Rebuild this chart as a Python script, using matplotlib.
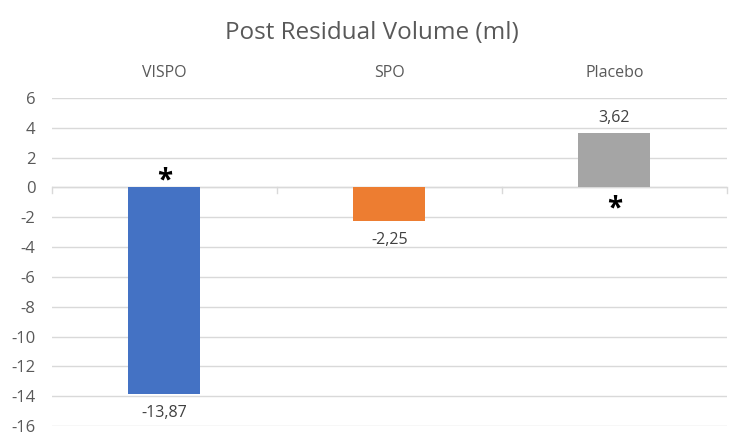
import matplotlib.pyplot as plt
import numpy as np

plt.rcParams['font.family'] = ['Open Sans', 'DejaVu Sans']
plt.rcParams['axes.unicode_minus'] = False

categories = ['VISPO', 'SPO', 'Placebo']
values = [-13.87, -2.25, 3.62]
colors = ['#4472C4', '#ED7D31', '#A5A5A5']
# asterisk markers: (category index, y value)
star_x = [0, 2]
star_y = [0.45, -1.45]

fig = plt.figure(figsize=(7.47, 4.43), dpi=100)
ax = fig.add_axes([0.0696, 0.0384, 0.9034, 0.7404])

x = np.arange(len(categories))
bars = ax.bar(x, values, width=0.32, color=colors, zorder=3)

# value labels with decimal comma
for b, v in zip(bars, values):
    txt = ('%.2f' % v).replace('.', ',')
    off = 15 if v > 0 else -19
    ax.annotate(txt, (b.get_x() + b.get_width() / 2, v), xytext=(0, off),
                textcoords='offset pixels',
                ha='center', va='center', fontsize=11.5, color='#404040')

for sx, sy in zip(star_x, star_y):
    ax.text(sx, sy, '*', ha='center', va='center', fontsize=20,
            fontweight='bold', color='black', zorder=4)

ax.set_xlim(-0.5, 2.5)
ax.set_ylim(-16, 6)
ax.set_yticks(np.arange(-16, 7, 2))
ax.yaxis.grid(True, color='#D9D9D9', linewidth=1, zorder=0)
ax.set_axisbelow(True)

# zero axis line with small ticks between categories
ax.axhline(0, color='#D9D9D9', linewidth=1, zorder=1)
for bx in np.arange(-0.5, len(categories), 1.0):
    ax.plot([bx, bx], [0, -0.35], color='#D9D9D9', linewidth=1, zorder=1, clip_on=False)

ax.set_xticks(x)
ax.set_xticklabels(categories)
ax.xaxis.set_ticks_position('top')
ax.tick_params(axis='x', length=0, pad=12, labelsize=11.5, colors='#595959')
ax.tick_params(axis='y', length=0, pad=12, labelsize=12, colors='#595959')

for s in ax.spines.values():
    s.set_visible(False)

fig.text(0.4975, 0.925, 'Post Residual Volume (ml)', ha='center', va='center',
         fontsize=17.5, color='#595959')

fig.savefig('out.png', dpi=100)
